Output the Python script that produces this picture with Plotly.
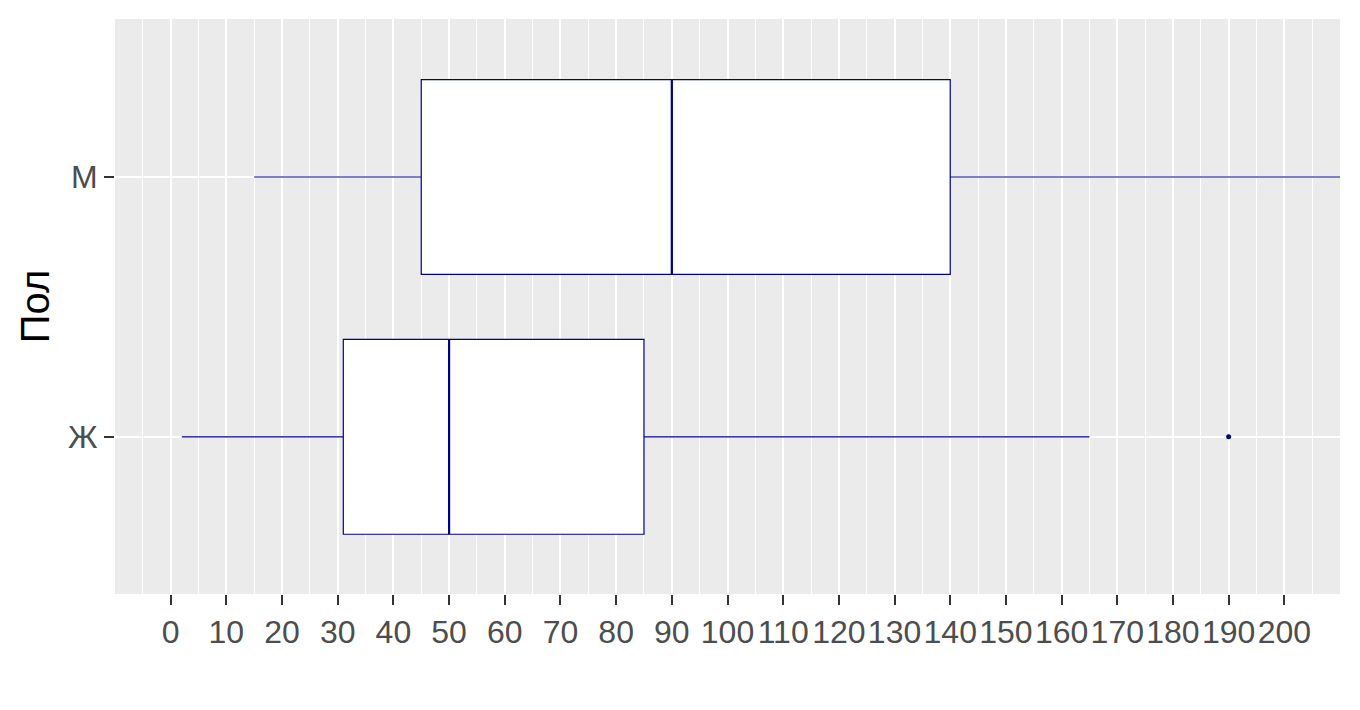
import plotly.graph_objects as go

# Data
categories = ["Ж", "М"]
lower_whisker = [2, 15]
q1_vals = [31, 45]
medians = [50, 90]
q3_vals = [85, 140]
upper_whisker = [165, 240]
outlier_x = [190]
outlier_cat = ["Ж"]
x_ticks = list(range(0, 201, 10))

BOX_COLOR = "#00008B"
FONT = "Liberation Sans, Arial, sans-serif"

fig = go.Figure()
fig.add_trace(go.Box(
    y=categories,
    q1=q1_vals,
    median=medians,
    q3=q3_vals,
    lowerfence=lower_whisker,
    upperfence=upper_whisker,
    orientation="h",
    width=0.75,
    whiskerwidth=0,
    fillcolor="white",
    line=dict(color=BOX_COLOR, width=1.2),
    boxpoints=False,
    hoverinfo="skip",
    showlegend=False,
))
# thicker median line (ggplot draws the median twice as thick)
fig.add_trace(go.Box(
    y=categories,
    q1=medians,
    median=medians,
    q3=medians,
    lowerfence=medians,
    upperfence=medians,
    orientation="h",
    width=0.75,
    whiskerwidth=0,
    fillcolor="rgba(0,0,0,0)",
    line=dict(color=BOX_COLOR, width=2.2),
    boxpoints=False,
    hoverinfo="skip",
    showlegend=False,
))
fig.add_trace(go.Scatter(
    x=outlier_x,
    y=outlier_cat,
    mode="markers",
    marker=dict(color=BOX_COLOR, size=5),
    showlegend=False,
    hoverinfo="skip",
))

fig.update_layout(
    width=1360,
    height=710,
    margin=dict(l=115, r=20, t=19, b=116),
    paper_bgcolor="white",
    plot_bgcolor="#EBEBEB",
    font=dict(family=FONT, color="#4D4D4D"),
    showlegend=False,
    boxmode="overlay",
    xaxis=dict(
        range=[-10, 210],
        tickvals=x_ticks,
        ticktext=[str(v) for v in x_ticks],
        tickangle=0,
        showgrid=True,
        gridcolor="white",
        gridwidth=2,
        zeroline=False,
        ticks="outside",
        ticklen=10,
        tickwidth=2,
        tickcolor="#333333",
        tickfont=dict(size=32, color="#4D4D4D", family=FONT),
        minor=dict(dtick=5, tick0=0, showgrid=True, gridcolor="white", gridwidth=1, ticks=""),
        showline=False,
        automargin=False,
        fixedrange=True,
    ),
    yaxis=dict(
        type="category",
        categoryorder="array",
        categoryarray=categories,
        range=[-0.605, 1.608],
        showgrid=True,
        gridcolor="white",
        gridwidth=2,
        zeroline=False,
        ticks="outside",
        ticklen=10,
        tickwidth=2,
        tickcolor="#333333",
        tickfont=dict(size=32, color="#4D4D4D", family=FONT),
        title=dict(text="Пол", font=dict(size=40, color="black", family=FONT), standoff=6),
        showline=False,
        automargin=False,
        fixedrange=True,
    ),
)

fig.write_html("out.html", config={"displayModeBar": False},
               post_script="document.body.style.margin='0';")
